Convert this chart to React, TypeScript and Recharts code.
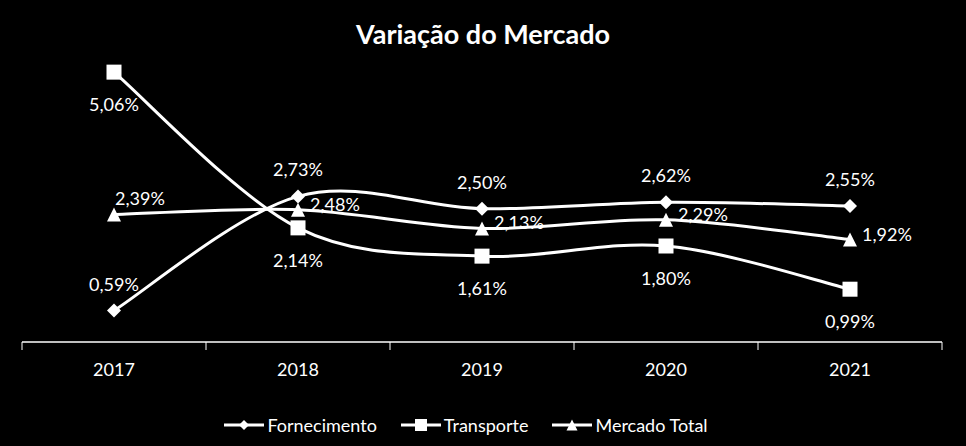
import { LineChart, Line, XAxis, YAxis, Legend, LabelList } from "recharts";

const years = ["2017", "2018", "2019", "2020", "2021"];
const fornecimento = [0.59, 2.73, 2.5, 2.62, 2.55];
const transporte = [5.06, 2.14, 1.61, 1.8, 0.99];
const mercadoTotal = [2.39, 2.48, 2.13, 2.29, 1.92];

const data = years.map((year, i) => ({
  year,
  fornecimento: fornecimento[i],
  transporte: transporte[i],
  mercado: mercadoTotal[i],
}));

const W = 966;
const H = 446;
const MARGIN = { top: 22, right: 24, left: 22, bottom: 6 };
const HALF_BAND = (W - MARGIN.left - MARGIN.right) / years.length / 2;
const TICK_MARGIN = 21;

const FONT = "Lato, 'Open Sans', sans-serif";
const fmt = (v: number) => v.toFixed(2).replace(".", ",") + "%";

// excel-style smoothed line (catmull-rom as bezier)
function excelCurve(context: any) {
  let pts: [number, number][] = [];
  return {
    areaStart() {},
    areaEnd() {},
    lineStart() {
      pts = [];
    },
    lineEnd() {
      if (!pts.length) return;
      context.moveTo(pts[0][0], pts[0][1]);
      const t = 1 / 6;
      for (let i = 0; i < pts.length - 1; i++) {
        const p0 = pts[Math.max(i - 1, 0)];
        const p1 = pts[i];
        const p2 = pts[i + 1];
        const p3 = pts[Math.min(i + 2, pts.length - 1)];
        context.bezierCurveTo(
          p1[0] + (p2[0] - p0[0]) * t,
          p1[1] + (p2[1] - p0[1]) * t,
          p2[0] - (p3[0] - p1[0]) * t,
          p2[1] - (p3[1] - p1[1]) * t,
          p2[0],
          p2[1]
        );
      }
    },
    point(x: number, y: number) {
      pts.push([x, y]);
    },
  };
}

function marker(shape: string, cx: number, cy: number, s: number, key?: any) {
  if (shape === "diamond") {
    const h = s / 2;
    return <path key={key} d={`M${cx},${cy - h}L${cx + h},${cy}L${cx},${cy + h}L${cx - h},${cy}Z`} fill="#fff" />;
  }
  if (shape === "square") {
    return <rect key={key} x={cx - s / 2} y={cy - s / 2} width={s} height={s} fill="#fff" />;
  }
  return (
    <path key={key} d={`M${cx},${cy - s / 2}L${cx + s / 2},${cy + s / 2}L${cx - s / 2},${cy + s / 2}Z`} fill="#fff" />
  );
}

const dotFor = (shape: string, s: number) => (p: any) => marker(shape, p.cx, p.cy, s, p.index);

// category label plus tick marks on the band boundaries
const YearTick = (p: any) => {
  const axisY = p.y - TICK_MARGIN;
  const last = p.index === years.length - 1;
  return (
    <g>
      <line x1={p.x - HALF_BAND} x2={p.x - HALF_BAND} y1={axisY} y2={axisY + 8} stroke="#fff" strokeWidth={1} />
      {last && <line x1={p.x + HALF_BAND} x2={p.x + HALF_BAND} y1={axisY} y2={axisY + 8} stroke="#fff" strokeWidth={1} />}
      <text x={p.x} y={p.y} dy="0.71em" textAnchor="middle" fill="#fff" fontSize={18} fontFamily={FONT}>
        {p.payload.value}
      </text>
    </g>
  );
};

const labelAbove = (p: any) => (
  <text key={p.index} x={p.x} y={p.y - 27} textAnchor="middle" dominantBaseline="central" fill="#fff" fontSize={18} fontFamily={FONT}>
    {fmt(p.value)}
  </text>
);

const labelBelow = (p: any) => (
  <text key={p.index} x={p.x} y={p.y + 32} textAnchor="middle" dominantBaseline="central" fill="#fff" fontSize={18} fontFamily={FONT}>
    {fmt(p.value)}
  </text>
);

const labelRight = (p: any) => {
  const first = p.index === 0;
  return (
    <text
      key={p.index}
      x={p.x + (first ? 1 : 12)}
      y={p.y + (first ? -17 : -6)}
      textAnchor="start"
      dominantBaseline="central"
      fill="#fff"
      fontSize={18}
      fontFamily={FONT}
    >
      {fmt(p.value)}
    </text>
  );
};

const legendItems = [
  { name: "Fornecimento", shape: "diamond", s: 10 },
  { name: "Transporte", shape: "square", s: 12 },
  { name: "Mercado Total", shape: "triangle", s: 11 },
];

const renderLegend = () => (
  <div style={{ display: "flex", justifyContent: "center", gap: 24, height: 30, alignItems: "center", paddingRight: 32 }}>
    {legendItems.map((it) => (
      <div key={it.name} style={{ display: "flex", alignItems: "center" }}>
        <svg width={40} height={14}>
          <line x1={0} y1={7} x2={40} y2={7} stroke="#fff" strokeWidth={3} />
          {marker(it.shape, 20, 7, it.s)}
        </svg>
        <span style={{ color: "#fff", fontFamily: FONT, fontSize: 18, marginLeft: 3 }}>{it.name}</span>
      </div>
    ))}
  </div>
);

export default function App() {
  return (
    <div style={{ position: "absolute", left: 0, top: 0, width: W, height: H, background: "#000" }}>
      <div
        style={{
          position: "absolute",
          top: 17,
          left: 0,
          width: W,
          textAlign: "center",
          color: "#fff",
          fontFamily: FONT,
          fontWeight: 700,
          fontSize: 27,
        }}
      >
        Variação do Mercado
      </div>
      <LineChart width={W} height={H} data={data} margin={MARGIN}>
        <XAxis
          dataKey="year"
          padding={{ left: HALF_BAND, right: HALF_BAND }}
          axisLine={{ stroke: "#fff", strokeWidth: 1.3 }}
          tickLine={false}
          tickSize={0}
          tickMargin={TICK_MARGIN}
          tick={YearTick}
          height={68}
        />
        <YAxis hide domain={[0, 6]} />
        <Legend verticalAlign="bottom" height={30} content={renderLegend} />
        <Line
          dataKey="fornecimento"
          name="Fornecimento"
          type={excelCurve as any}
          stroke="#fff"
          strokeWidth={3}
          dot={dotFor("diamond", 14)}
          activeDot={false}
          isAnimationActive={false}
        >
          <LabelList dataKey="fornecimento" content={labelAbove} />
        </Line>
        <Line
          dataKey="transporte"
          name="Transporte"
          type={excelCurve as any}
          stroke="#fff"
          strokeWidth={3}
          dot={dotFor("square", 15)}
          activeDot={false}
          isAnimationActive={false}
        >
          <LabelList dataKey="transporte" content={labelBelow} />
        </Line>
        <Line
          dataKey="mercado"
          name="Mercado Total"
          type={excelCurve as any}
          stroke="#fff"
          strokeWidth={3}
          dot={dotFor("triangle", 14)}
          activeDot={false}
          isAnimationActive={false}
        >
          <LabelList dataKey="mercado" content={labelRight} />
        </Line>
      </LineChart>
    </div>
  );
}
